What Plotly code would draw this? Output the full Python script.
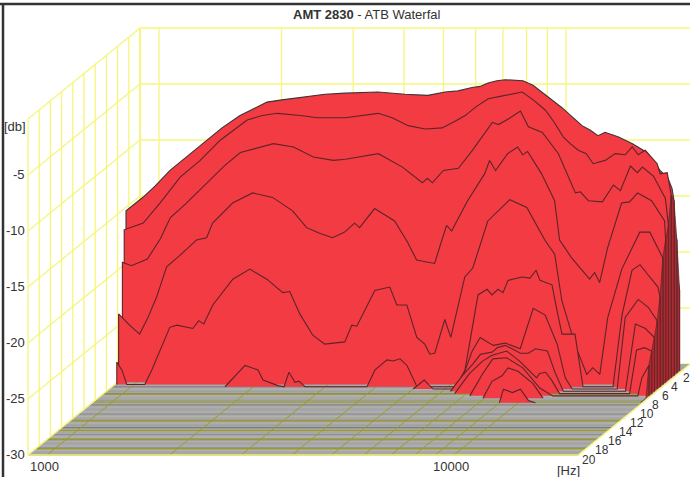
import math
import plotly.graph_objects as go

# Frequency bins: f = 1000 * 10 ** (bin / 407) Hz.  Levels in dB.  Time in ms.
S1_T = 1.5
S1_BIN = [449, 489, 514, 524, 529]
S1_DB = [-10.3, -12.1, -15.6, -20.1, -22.8]
S2_T = 2.0
S2_BIN = [452, 482, 502, 517, 524, 529]
S2_DB = [-9.2, -10.1, -11.4, -13.7, -16.3, -18.1]
L1_T = 2.5
L1_BIN = [-19, -2, 10, 25, 43, 62, 77, 95, 108, 122, 137, 155, 180, 200, 233, 260, 283, 300, 313, 327, 335, 343, 352, 360, 378, 388, 397, 407, 417, 427, 437, 445, 453, 460, 473, 487, 502, 515, 523, 527, 529]
L1_DB = [-15.3, -14.1, -13.1, -11.7, -10.4, -9.0, -7.9, -6.8, -6.2, -5.6, -5.4, -5.2, -4.9, -4.8, -4.7, -4.9, -5.0, -4.7, -4.6, -4.3, -4.2, -3.9, -3.7, -3.6, -3.7, -4.1, -4.7, -5.4, -6.1, -6.9, -7.7, -8.1, -8.6, -8.3, -8.7, -9.3, -10.1, -11.7, -12.4, -13.3, -14.4]
L2_T = 3.0
L2_BIN = [-18, 1, 18, 38, 58, 78, 105, 120, 135, 158, 175, 203, 236, 250, 266, 283, 300, 311, 323, 334, 346, 363, 380, 391, 403, 412, 421, 428, 436, 444, 451, 463, 473, 483, 490, 496, 503, 515, 518, 525, 529]
L2_DB = [-16.8, -16.2, -14.4, -12.1, -10.6, -8.8, -7.0, -6.6, -6.4, -6.6, -6.8, -6.8, -6.4, -6.8, -7.5, -7.8, -7.7, -7.2, -6.6, -5.8, -5.1, -4.8, -4.5, -5.2, -6.1, -7.2, -8.5, -9.1, -9.7, -10.0, -10.9, -10.6, -10.0, -10.1, -9.4, -10.1, -9.7, -10.9, -11.8, -11.7, -13.7]
L3_T = 3.5
L3_BIN = [-17, -8, 8, 21, 31, 46, 61, 74, 86, 101, 134, 154, 174, 194, 206, 239, 251, 263, 283, 288, 293, 304, 319, 333, 353, 359, 369, 381, 389, 403, 419, 427, 436, 441, 449, 463, 474, 481, 491, 498, 503, 514, 526, 529]
L3_DB = [-19.5, -19.8, -19.2, -17.4, -15.5, -14.3, -13.0, -11.9, -10.8, -9.7, -8.9, -9.2, -10.1, -10.4, -10.3, -9.8, -10.4, -11.0, -12.4, -12.0, -12.4, -11.3, -11.1, -9.5, -7.0, -7.2, -6.7, -6.0, -7.4, -7.9, -9.8, -11.5, -13.3, -13.2, -14.0, -14.1, -12.6, -13.1, -10.9, -11.5, -11.0, -11.8, -13.8, -16.2]
L4_T = 4.0
L4_BIN = [-18, -7, 3, 11, 20, 30, 43, 60, 70, 76, 96, 116, 136, 156, 170, 183, 196, 208, 218, 223, 238, 258, 271, 280, 298, 306, 310, 315, 331, 348, 353, 359, 371, 381, 386, 391, 405, 418, 423, 435, 448, 453, 458, 463, 471, 475, 485, 493, 501, 515, 528, 529]
L4_DB = [-23.9, -24.9, -25.7, -24.3, -22.4, -19.7, -18.7, -17.3, -17.1, -15.8, -14.0, -13.1, -13.5, -14.7, -16.2, -16.7, -17.1, -16.6, -15.8, -16.2, -14.5, -15.6, -17.5, -19.1, -19.4, -17.1, -16.0, -16.5, -13.8, -11.4, -10.2, -11.1, -9.6, -9.0, -9.7, -9.4, -11.4, -13.8, -17.3, -18.9, -20.2, -20.8, -20.2, -21.1, -18.0, -16.9, -14.0, -13.9, -13.1, -13.8, -15.6, -17.3]
L5_T = 4.5
L5_BIN = [-17, -12, -7, 11, 18, 36, 43, 59, 65, 70, 79, 99, 116, 133, 149, 156, 166, 179, 191, 211, 218, 223, 241, 256, 263, 273, 283, 291, 296, 301, 311, 317, 331, 339, 348, 354, 376, 393, 411, 421, 428, 441, 453, 459, 466, 474, 488, 498, 506, 516, 529]
L5_DB = [-28.0, -28.7, -30, -30, -28.7, -24.9, -24.7, -25.0, -24.3, -24.6, -22.9, -20.6, -19.7, -20.6, -21.8, -21.7, -23.7, -25.6, -26.4, -26.2, -24.7, -24.8, -21.6, -21.3, -22.9, -22.9, -25.8, -26.4, -27.3, -27.2, -24.2, -25.8, -20.4, -19.6, -17.1, -15.4, -13.5, -14.2, -17.1, -18.4, -22.5, -26.4, -29.1, -28.5, -29.1, -24.0, -19.7, -17.8, -16.4, -16.4, -18.7]
L6_T = 5.0
L6_BIN = [-19, 94, 114, 127, 132, 147, 153, 158, 164, 168, 174, 236, 244, 256, 262, 269, 276, 286, 325, 334, 341, 347, 356, 361, 367, 372, 377, 391, 399, 405, 409, 421, 426, 431, 444, 452, 482, 491, 501, 509, 517, 527, 529]
L6_DB = [-30, -30, -28.1, -28.5, -29.4, -29.9, -30, -28.7, -29.6, -29.5, -30, -30, -28.5, -27.6, -27.7, -27.5, -28.1, -30, -30, -28.5, -25.0, -21.8, -21.3, -21.8, -21.3, -21.6, -20.5, -20.2, -20.3, -19.6, -20.5, -20.9, -23.2, -25.3, -25.3, -30, -30, -23.6, -19.6, -19.1, -20.0, -21.1, -22.0]
L7_T = 5.5
L7_BIN = [-19, 285, 296, 305, 324, 335, 344, 352, 365, 377, 392, 405, 417, 429, 437, 444, 489, 497, 510, 520, 529]
L7_DB = [-30, -30, -29.2, -30, -30, -28.8, -26.6, -25.4, -26.1, -25.9, -26.4, -22.8, -23.4, -26.0, -29.0, -30, -30, -23.6, -22.0, -22.7, -23.9]
L8_T = 6.0
L8_BIN = [-19, 325, 337, 348, 355, 367, 372, 380, 395, 403, 410, 422, 430, 438, 500, 510, 520, 529]
L8_DB = [-30, -30, -28.6, -27.5, -26.7, -26.5, -26.1, -25.9, -26.6, -26.6, -26.2, -26.4, -28.4, -30, -30, -24.0, -24.4, -25.2]
L9_T = 6.5
L9_BIN = [-19, 332, 347, 360, 369, 384, 397, 414, 417, 423, 429, 437, 507, 514, 522, 529]
L9_DB = [-30, -30, -28.2, -27.1, -26.6, -26.2, -27.1, -28.6, -28.2, -28.1, -28.8, -30, -30, -26.1, -25.9, -26.2]
L10_T = 7.0
L10_BIN = [-19, 350, 363, 373, 387, 403, 420, 433, 518, 522, 529]
L10_DB = [-30, -30, -28.0, -26.7, -26.6, -27.5, -29.3, -30, -30, -28.4, -27.3]
L11_T = 7.5
L11_BIN = [-19, 366, 375, 385, 391, 401, 416, 426, 529]
L11_DB = [-30, -30, -28.5, -28.0, -27.3, -27.6, -28.7, -30, -30]
L12_T = 8.5
L12_BIN = [-19, 388, 392, 401, 409, 417, 424, 529]
L12_DB = [-30, -30, -28.8, -29.1, -28.8, -29.8, -30, -30]

SLICES = [
    (S1_T, S1_BIN, S1_DB), (S2_T, S2_BIN, S2_DB), (L1_T, L1_BIN, L1_DB), (L2_T, L2_BIN, L2_DB),
    (L3_T, L3_BIN, L3_DB), (L4_T, L4_BIN, L4_DB), (L5_T, L5_BIN, L5_DB), (L6_T, L6_BIN, L6_DB),
    (L7_T, L7_BIN, L7_DB), (L8_T, L8_BIN, L8_DB), (L9_T, L9_BIN, L9_DB), (L10_T, L10_BIN, L10_DB),
    (L11_T, L11_BIN, L11_DB), (L12_T, L12_BIN, L12_DB),
]

DB_TICKS = [-5, -10, -15, -20, -25, -30]
DB_GRID = [0, -5, -10, -15, -20, -25, -30]
F_GRID = [1000, 2000, 3000, 4000, 5000, 6000, 7000, 8000, 9000, 10000]
F_LABELS = [1000, 10000]
T_TICKS = [2, 4, 6, 8, 10, 12, 14, 16, 18, 20]
T_WALL = [0, 2, 4, 6, 8, 10, 12, 14, 16, 18, 20]
T_FLOOR_GRID = [6.6, 8.4, 12.4, 14.6, 16.6, 18.6]
FLOOR_T = [5 + 0.5 * i for i in range(31)]
FLOOR_SHADE = ["#8a8a8a", "#b0b0b0", "#a0a0a0", "#7c7c7c", "#b2b2b2", "#a8a8a8", "#9a9a9a", "#b4b4b4", "#868686", "#aeaeae",
               "#a4a4a4", "#b0b0b0", "#909090", "#b2b2b2", "#a6a6a6", "#8a8a8a", "#b0b0b0", "#a0a0a0", "#7c7c7c", "#b2b2b2",
               "#a8a8a8", "#929292", "#b4b4b4", "#868686", "#aeaeae", "#a4a4a4", "#b0b0b0", "#848484", "#b2b2b2", "#a6a6a6", "#8c8c8c"]

F_MIN, F_MAX = 10 ** (3 - 19 / 407), 20200.0
DEC = 407.0    # px per decade
DX, DY = 5.6, 4.55   # px per ms
PY_DB = 11.2   # px per dB
T_FRONT = 20
RED, DARK, EDGE = "#F23B43", "#AE2A30", "#5E2529"
YEL, OLIVE = "#F6F67C", "#9C9C22"
T_LABEL_XSHIFT = [7, 7, 8.6, 10, 13, 14, 14.4, 14.6, 13, 11]


def fx(f, t):
    return f * 10 ** ((T_FRONT - t) * DX / DEC)


def fy(db, t):
    return db + (T_FRONT - t) * DY / PY_DB


def freq(b):
    return 1000 * 10 ** (b / DEC)


fig = go.Figure()


def add_line(xs, ys, color, width=1.0):
    fig.add_trace(go.Scatter(x=xs, y=ys, mode="lines", line=dict(color=color, width=width), hoverinfo="skip", showlegend=False, connectgaps=False))


def add_fill(xs, ys, color, line=None, width=0):
    fig.add_trace(go.Scatter(x=xs, y=ys, mode="lines", fill="toself", fillcolor=color,
                             line=dict(color=line or color, width=width), hoverinfo="skip", showlegend=False))


# walls
for db in DB_GRID:
    add_line([fx(F_MIN, 0), fx(F_MAX, 0)], [fy(db, 0), fy(db, 0)], YEL, 1.3)
    add_line([fx(F_MIN, 0), fx(F_MIN, T_FRONT)], [fy(db, 0), fy(db, T_FRONT)], YEL, 1.3)
for f in F_GRID:
    add_line([fx(f, 0), fx(f, 0)], [fy(0, 0), fy(-30, 0)], YEL, 1.3)
for t in T_WALL:
    add_line([fx(F_MIN, t), fx(F_MIN, t)], [fy(0, t), fy(-30, t)], YEL, 1.3)
add_line([fx(F_MIN, 0), fx(F_MIN, 0)], [fy(0, 0), fy(-30, 0)], YEL, 2)

# floor
add_fill([fx(F_MIN, 0), fx(F_MAX, 0), fx(F_MAX, T_FRONT), fx(F_MIN, T_FRONT)],
         [fy(-30, 0), fy(-30, 0), fy(-30, T_FRONT), fy(-30, T_FRONT)], "#a8a8a8")
for t, shade in zip(FLOOR_T, FLOOR_SHADE):
    add_line([fx(F_MIN, t), fx(F_MAX, t)], [fy(-30, t), fy(-30, t)], shade, 1.3)
for t in T_FLOOR_GRID:
    add_line([fx(F_MIN, t), fx(F_MAX, t)], [fy(-30, t), fy(-30, t)], OLIVE, 1.3)
for f in F_GRID:
    add_line([fx(f, 0), fx(f, T_FRONT)], [fy(-30, 0), fy(-30, T_FRONT)], OLIVE, 1)
add_line([fx(F_MIN, T_FRONT), fx(F_MAX, T_FRONT), fx(F_MAX, 0)], [fy(-30, T_FRONT), fy(-30, T_FRONT), fy(-30, 0)], YEL, 1.5)
add_line([fx(F_MIN, T_FRONT), fx(F_MIN, 0)], [fy(-30, T_FRONT), fy(-30, 0)], YEL, 1.3)

# slices, back to front
prev = None
for k, (t, bins, dbs) in enumerate(SLICES):
    f_end = freq(bins[-1])
    if prev is not None:
        pt, pdb = prev
        add_fill([fx(f_end, pt), fx(f_end, pt), fx(f_end, t), fx(f_end, t)],
                 [fy(-30, pt), fy(pdb, pt), fy(dbs[-1], t), fy(-30, t)], DARK, EDGE, 0.7)
    prev = (t, dbs[-1])
    bb = [bins[0]] + bins + [bins[-1]]
    dd = [-30] + dbs + [-30]
    xs = [fx(freq(b), t) for b in bb]
    ys = [fy(d, t) for d in dd]
    add_fill(xs, ys, RED)
    lx, ly = [], []
    for i in range(len(bb)):
        near = dd[i] > -30 or (i > 0 and dd[i - 1] > -30) or (i + 1 < len(dd) and dd[i + 1] > -30)
        lx.append(xs[i] if near else None)
        ly.append(ys[i] if near else None)
    add_line(lx, ly, "#3c3436" if k <= 2 else EDGE, 1.1)

TXT = "#333333"
FONT = "Liberation Sans"
ann = []
for db in DB_TICKS:
    ann.append(dict(x=math.log10(fx(F_MIN, T_FRONT)), y=fy(db, T_FRONT), text=str(db), showarrow=False, xanchor="right", xshift=-1, yshift=1))
for f in F_LABELS:
    ann.append(dict(x=math.log10(fx(f, T_FRONT)), y=fy(-30, T_FRONT), text=str(f), showarrow=False, yanchor="top", xshift=-3, yshift=-2))
for t, xs_ in zip(T_TICKS, T_LABEL_XSHIFT):
    ann.append(dict(x=math.log10(fx(F_MAX, t)), y=fy(-30, t), text=str(t), showarrow=False,
                    xshift=xs_, yshift=-4, font=dict(size=12), borderpad=0, height=9, valign="middle"))
ann.append(dict(x=15 / 690, y=1 - 127 / 477, xref="paper", yref="paper", text="[db]", showarrow=False, xanchor="center", yanchor="middle"))
ann.append(dict(x=568 / 690, y=1 - 470 / 477, xref="paper", yref="paper", text="[Hz]", showarrow=False, xanchor="center", yanchor="middle"))
ann.append(dict(x=366 / 690, y=1 - 14.5 / 477, xref="paper", yref="paper", text="<b>AMT 2830</b> - ATB Waterfal", showarrow=False, xanchor="center", yanchor="middle"))

fig.update_layout(
    width=690, height=477, margin=dict(l=0, r=0, t=0, b=0), showlegend=False,
    paper_bgcolor="white", plot_bgcolor="white",
    font=dict(family=FONT, size=13, color=TXT),
    xaxis=dict(type="log", range=[3 - 47 / DEC, 3 + (690 - 47) / DEC], visible=False),
    yaxis=dict(range=[-30 - (477 - 455) / PY_DB, -30 + 455 / PY_DB], visible=False),
    annotations=ann,
    shapes=[
        dict(type="line", xref="paper", yref="paper", x0=0, x1=1, y0=1 - 4 / 477, y1=1 - 4 / 477, line=dict(color="#333333", width=2.5)),
        dict(type="line", xref="paper", yref="paper", x0=3 / 690, x1=3 / 690, y0=0, y1=1 - 4 / 477, line=dict(color="#333333", width=2.5)),
    ],
)
fig.write_html("out.html", config={"displayModeBar": False}, post_script="document.body.style.margin='0';document.documentElement.style.overflow='hidden';")
